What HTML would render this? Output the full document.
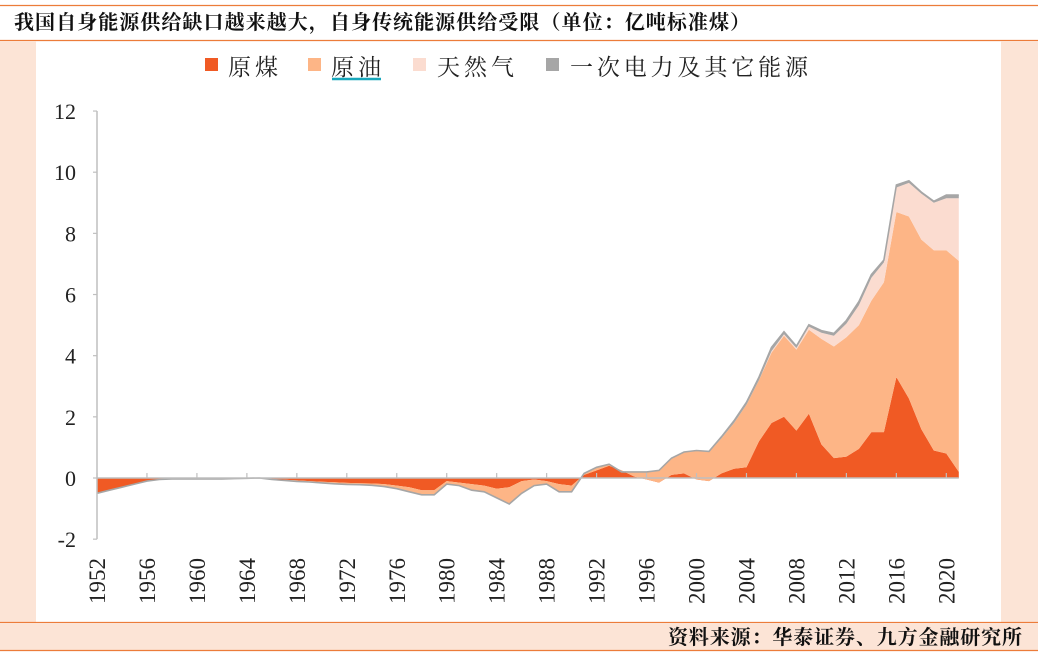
<!DOCTYPE html>
<html><head><meta charset="utf-8">
<style>
body{margin:0;width:1038px;height:658px;background:#fff;overflow:hidden;font-family:"Liberation Serif","Noto Serif CJK SC",serif;}
</style></head>
<body>
<svg width="1038" height="658" viewBox="0 0 1038 658" xmlns="http://www.w3.org/2000/svg">
<line x1="0" y1="5.5" x2="1038" y2="5.5" stroke="#ec7c3a" stroke-width="1.2"/>
<text x="14" y="29" font-size="20" fill="#111" font-weight="bold" textLength="736" font-family="'Liberation Serif','Noto Serif CJK SC',serif">我国自身能源供给缺口越来越大，自身传统能源供给受限（单位：亿吨标准煤）</text>
<line x1="0" y1="40.5" x2="1038" y2="40.5" stroke="#ec7c3a" stroke-width="1.2"/>
<rect x="0" y="41" width="36" height="581" fill="#fce4d6"/>
<rect x="1001" y="41" width="37" height="581" fill="#fce4d6"/>
<line x1="0" y1="622.5" x2="1038" y2="622.5" stroke="#ec7c3a" stroke-width="1.2"/>
<rect x="0" y="623" width="1038" height="27" fill="#fce4d6"/>
<line x1="0" y1="650.5" x2="1038" y2="650.5" stroke="#ec7c3a" stroke-width="1.2"/>
<text x="1022" y="644" text-anchor="end" font-size="20" font-weight="bold" fill="#111" textLength="354" font-family="'Liberation Serif','Noto Serif CJK SC',serif">资料来源：华泰证券、九方金融研究所</text>

<g id="legend" font-size="23" fill="#222" font-family="'Liberation Serif','Noto Serif CJK SC',serif">
 <g><rect x="205" y="58" width="13" height="13" fill="#f05a24"/><text x="228" y="75" letter-spacing="4">原煤</text></g>
 <g><rect x="308" y="58" width="13" height="13" fill="#fdb586"/><text x="331" y="75" letter-spacing="4">原油</text><line x1="332" y1="79" x2="381" y2="79" stroke="#18a7bb" stroke-width="2.5"/></g>
 <g><rect x="413" y="58" width="13" height="13" fill="#fbdcd0"/><text x="437" y="75" letter-spacing="4">天然气</text></g>
 <g><rect x="546" y="58" width="13" height="13" fill="#a6a6a6"/><text x="570" y="75" textLength="238">一次电力及其它能源</text></g>
</g>
<g id="plot"></g>
</svg>
<script>
const years=[];for(let y=1952;y<=2021;y++)years.push(y);
const coal=[-0.5,-0.4,-0.3,-0.2,-0.1,-0.05,-0.03,-0.03,-0.03,-0.03,-0.03,-0.02,-0.01,0,
-0.04,-0.06,-0.08,-0.1,-0.12,-0.14,-0.16,-0.17,-0.18,-0.2,-0.25,-0.3,-0.4,-0.4,-0.1,-0.15,-0.2,-0.25,-0.35,-0.3,-0.1,-0.05,-0.1,-0.2,-0.25,
0.1,0.25,0.4,0.25,0.05,-0.05,-0.15,0.1,0.15,-0.05,-0.1,0.15,0.3,0.35,1.2,1.8,2.0,1.55,2.1,1.1,0.65,0.7,0.95,1.5,1.5,3.3,2.6,1.6,0.9,0.8,0.2];
const oil=[0,0,0,0,0,0,0,0,0,0,0,0,0,0,
-0.01,-0.02,-0.03,-0.03,-0.04,-0.05,-0.05,-0.05,-0.06,-0.08,-0.1,-0.15,-0.15,-0.15,-0.1,-0.1,-0.2,-0.2,-0.3,-0.55,-0.4,-0.2,-0.1,-0.25,-0.2,
0.05,0.1,0.05,-0.05,0.15,0.25,0.4,0.55,0.7,0.95,0.95,1.15,1.5,2.05,2.0,2.3,2.65,2.65,2.75,3.45,3.65,3.9,4.05,4.3,4.9,5.4,5.95,6.2,6.55,6.65,6.9];
const gas=years.map(()=>0);
const gasRecent=[0,0.05,0.05,0.05,0.1,0.2,0.35,0.45,0.65,0.75,0.65,0.8,1.1,1.5,1.55,1.7,2.05];
const other=years.map(()=>0);
const otherRecent=[0.02,0.05,0.07,0.08,0.1,0.12,0.08,0.06,0.06,0.07,0.08,0.1,0.12,0.1,0.08,0.08,0.07,0.05,0.05,0.1,0.1];
gasRecent.forEach((v,i)=>gas[years.indexOf(2005)+i]=v);
otherRecent.forEach((v,i)=>other[years.indexOf(2001)+i]=v);
const yTicks=[-2,0,2,4,6,8,10,12];
const xTickYears=[1952,1956,1960,1964,1968,1972,1976,1980,1984,1988,1992,1996,2000,2004,2008,2012,2016,2020];

const NS="http://www.w3.org/2000/svg";
const plot=document.getElementById('plot');
const X=y=>97+(y-1952)*12.49;
const Y=v=>478-v*30.58;
function mk(t,a){const e=document.createElementNS(NS,t);for(const k in a)e.setAttribute(k,a[k]);plot.appendChild(e);return e;}
const series=[coal,oil,gas,other];
const fills=['#f05a24','#fdb586','#fbdcd0','#a6a6a6'];
const names=['area-coal','area-oil','area-gas','area-other'];
let base=years.map(()=>0);
const tops=[];
series.forEach((s,si)=>{const top=base.map((b,i)=>b+s[i]);tops.push({base:base.slice(),top});base=top;});
tops.forEach((t,si)=>{
 let d='';years.forEach((y,i)=>{d+=(i?'L':'M')+X(y).toFixed(1)+','+Y(t.top[i]).toFixed(1);});
 for(let i=years.length-1;i>=0;i--)d+='L'+X(years[i]).toFixed(1)+','+Y(t.base[i]).toFixed(1);
 const p=mk('path',{d:d+'Z',fill:fills[si]});
 
 
});
// thin gray top edge of total (from other-energy series)
let dl='';const tt=tops[3].top;
years.forEach((y,i)=>{dl+=(i?'L':'M')+X(y).toFixed(1)+','+Y(tt[i]).toFixed(1);});
const tl=mk('path',{d:dl,fill:'none',stroke:'#a6a6a6','stroke-width':1.6});


// axes
const ya=mk('line',{x1:97,y1:Y(12),x2:97,y2:Y(-2),stroke:'#bfbfbf','stroke-width':1.5});


const xa=mk('line',{x1:97,y1:Y(0),x2:X(2021),y2:Y(0),stroke:'#bfbfbf','stroke-width':1.5});


yTicks.forEach(v=>{
 const tk=mk('line',{x1:93,y1:Y(v),x2:97,y2:Y(v),stroke:'#bfbfbf','stroke-width':1.2});
 
 
 const t=mk('text',{x:76,y:Y(v)+8,'text-anchor':'end','font-size':22,fill:'#222'});t.textContent=v;
 
 
});
xTickYears.forEach(y=>{
 const tk=mk('line',{x1:X(y),y1:Y(0)-5,x2:X(y),y2:Y(0),stroke:'#bfbfbf','stroke-width':1.2});
 
 
 const t=mk('text',{x:0,y:0,'font-size':23,fill:'#222',transform:`translate(${X(y)+8},604) rotate(-90)`});t.textContent=y;
 
 
});
</script>
</body></html>
